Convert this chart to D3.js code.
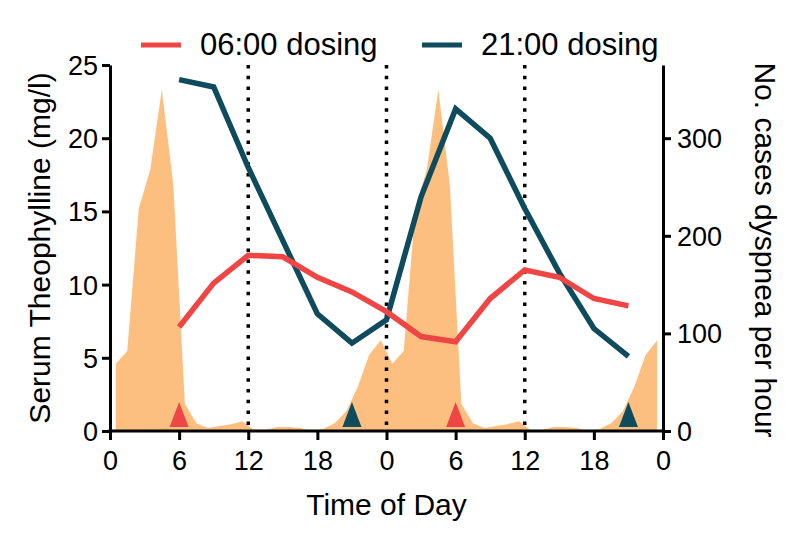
<!DOCTYPE html>
<html>
<head>
<meta charset="utf-8">
<script src="https://cdn.jsdelivr.net/npm/d3@7"></script>
<style>
  html, body { margin: 0; padding: 0; background: #ffffff; }
  svg { display: block; }
  text { font-family: "Liberation Sans", Arial, Helvetica, sans-serif; fill: #000; }
</style>
</head>
<body>
<svg id="chart" width="800" height="540"></svg>
<script>
// ---- data ----
const doseHours = [6, 9, 12, 15, 18, 21, 24, 27, 30, 33, 36, 39, 42, 45];
const dosing0600 = [7.1, 10.1, 12.0, 11.9, 10.5, 9.5, 8.15, 6.45, 6.1, 9.05, 11.0, 10.5, 9.05, 8.55];
const dosing2100 = [24.0, 23.5, 18.0, 13.0, 8.0, 6.0, 7.6, 16.0, 22.0, 20.0, 15.2, 10.8, 7.0, 5.1];

const caseHours = [0.5, 1.5, 2.5, 3.5, 4.5, 5.5, 6.5, 7.5, 8.5, 9.5, 10.5, 11.5,
                   12.5, 13.5, 14.5, 15.5, 16.5, 17.5, 18.5, 19.5, 20.5, 21.5, 22.5, 23.5,
                   24.5, 25.5, 26.5, 27.5, 28.5, 29.5, 30.5, 31.5, 32.5, 33.5, 34.5, 35.5,
                   36.5, 37.5, 38.5, 39.5, 40.5, 41.5, 42.5, 43.5, 44.5, 45.5, 46.5, 47.5];
const dyspneaCases = [69, 82, 228, 268, 350, 252, 28, 8, 3, 5, 7, 10,
                      1, 1, 4, 4, 3, 0, 2, 8, 20, 45, 78, 93,
                      69, 82, 228, 268, 350, 252, 28, 8, 3, 5, 7, 10,
                      1, 1, 4, 4, 3, 0, 2, 8, 20, 45, 78, 93];

const morningDoseTimes = [6, 30];
const eveningDoseTimes = [21, 45];
const noonMidnightLines = [12, 24, 36];

const xTickValues = [0, 6, 12, 18, 24, 30, 36, 42, 48];
const xTickLabels = ["0", "6", "12", "18", "0", "6", "12", "18", "0"];
const leftTicks = [0, 5, 10, 15, 20, 25];
const rightTicks = [0, 100, 200, 300];

const seriesNames = ["06:00 dosing", "21:00 dosing"];
const RED = "#f04545";
const BLUE = "#0d4b5d";
const ORANGE = "#fdbf7f";

// ---- scales ----
const svg = d3.select("#chart");
const plotL = 110, plotR = 663, plotT = 65, plotB = 431;
const x = d3.scaleLinear().domain([0, 48]).range([plotL, plotR]);
const yL = d3.scaleLinear().domain([0, 25]).range([plotB, plotT]);
const yR = d3.scaleLinear().domain([0, 375]).range([plotB, plotT]);

// ---- area (cases of dyspnea) ----
const caseData = caseHours.map((h, i) => ({ h, v: dyspneaCases[i] }));
svg.append("path")
  .datum(caseData)
  .attr("fill", ORANGE)
  .attr("d", d3.area().x(d => x(d.h)).y0(yR(0)).y1(d => yR(d.v)));

// ---- dotted vertical lines ----
svg.selectAll("line.dot")
  .data(noonMidnightLines)
  .enter().append("line")
  .attr("x1", d => x(d)).attr("x2", d => x(d))
  .attr("y1", plotT).attr("y2", plotB)
  .attr("stroke", "#000").attr("stroke-width", 3.5)
  .attr("stroke-dasharray", "3.5,7.3");

// ---- lines ----
const lineGen = d3.line().x(d => x(d.h)).y(d => yL(d.v));
const s2100 = doseHours.map((h, i) => ({ h, v: dosing2100[i] }));
const s0600 = doseHours.map((h, i) => ({ h, v: dosing0600[i] }));
svg.append("path").datum(s2100).attr("fill", "none").attr("stroke", BLUE)
  .attr("stroke-width", 5.5).attr("stroke-linejoin", "miter").attr("d", lineGen);
svg.append("path").datum(s0600).attr("fill", "none").attr("stroke", RED)
  .attr("stroke-width", 5.5).attr("stroke-linejoin", "miter").attr("d", lineGen);

// ---- dosing triangles ----
function tri(t) {
  const p = d3.path();
  const cx = x(t);
  p.moveTo(cx - 9.5, plotB - 4);
  p.lineTo(cx + 9.5, plotB - 4);
  p.lineTo(cx, plotB - 29);
  p.closePath();
  return p.toString();
}
svg.selectAll("path.tr").data(morningDoseTimes).enter().append("path")
  .attr("d", tri).attr("fill", RED);
svg.selectAll("path.tb").data(eveningDoseTimes).enter().append("path")
  .attr("d", tri).attr("fill", BLUE);

// ---- axes ----
function styleAxis(g, fs) {
  g.select(".domain").attr("stroke", "#000").attr("stroke-width", 3);
  g.selectAll(".tick line").attr("stroke", "#000").attr("stroke-width", 3);
  g.selectAll(".tick text").attr("font-size", fs).attr("fill", "#000")
    .style("font-family", "'Liberation Sans', Arial, sans-serif");
}
const gx = svg.append("g").attr("transform", `translate(0,${plotB})`)
  .call(d3.axisBottom(x).tickValues(xTickValues)
    .tickFormat((d, i) => xTickLabels[i]).tickSize(9).tickSizeOuter(0).tickPadding(11));
styleAxis(gx, 27);
gx.select(".domain").attr("d", `M${plotL - 1.5},0H${plotR + 1.5}`);

const gl = svg.append("g").attr("transform", `translate(${plotL},0)`)
  .call(d3.axisLeft(yL).tickValues(leftTicks).tickSize(8).tickSizeOuter(0).tickPadding(4));
styleAxis(gl, 27);
gl.selectAll(".tick text").attr("dy", "0.35em");

const gr = svg.append("g").attr("transform", `translate(${plotR},0)`)
  .call(d3.axisRight(yR).tickValues(rightTicks).tickSize(8).tickSizeOuter(0).tickPadding(6));
styleAxis(gr, 27);
gr.selectAll(".tick text").attr("dy", "0.35em");

// ---- titles ----
svg.append("text").attr("x", (plotL + plotR) / 2 + 0).attr("y", 515)
  .attr("text-anchor", "middle").attr("font-size", 30).text("Time of Day");
svg.append("text").attr("transform", "translate(50,248) rotate(-90)")
  .attr("text-anchor", "middle").attr("font-size", 30).text("Serum Theophylline (mg/l)");
svg.append("text").attr("transform", "translate(755,250) rotate(90)")
  .attr("text-anchor", "middle").attr("font-size", 30).text("No. cases dyspnea per hour");

// ---- legend ----
const legendX = [141, 422];
const legendColors = [RED, BLUE];
const lg = svg.append("g");
seriesNames.forEach((name, i) => {
  lg.append("line").attr("x1", legendX[i]).attr("x2", legendX[i] + 40)
    .attr("y1", 45).attr("y2", 45).attr("stroke", legendColors[i]).attr("stroke-width", 5);
  lg.append("text").attr("x", legendX[i] + 59).attr("y", 55)
    .attr("font-size", 31).text(name);
});
</script>
</body>
</html>
